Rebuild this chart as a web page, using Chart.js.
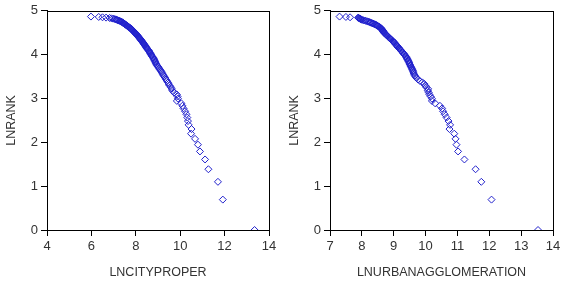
<!DOCTYPE html>
<html>
<head>
<meta charset="UTF-8" />
<script src="https://cdn.jsdelivr.net/npm/chart.js"></script>
<style>
  body { margin: 0; background: #fff; }
  .panel { position: absolute; top: 0; }
</style>
</head>
<body>
<div class="panel" style="left:0"><canvas id="cityChart" width="283" height="284"></canvas></div>
<div class="panel" style="left:283px"><canvas id="urbanChart" width="284" height="284"></canvas></div>

<script>
// LNRANK, rank 1..130
const lnRank = [
  0.000, 0.693, 1.099, 1.386, 1.609, 1.792, 1.946, 2.079, 2.197, 2.303,
  2.398, 2.485, 2.565, 2.639, 2.708, 2.773, 2.833, 2.890, 2.944, 2.996,
  3.045, 3.091, 3.135, 3.178, 3.219, 3.258, 3.296, 3.332, 3.367, 3.401,
  3.434, 3.466, 3.497, 3.526, 3.555, 3.584, 3.611, 3.638, 3.664, 3.689,
  3.714, 3.738, 3.761, 3.784, 3.807, 3.829, 3.850, 3.871, 3.892, 3.912,
  3.932, 3.951, 3.970, 3.989, 4.007, 4.025, 4.043, 4.060, 4.078, 4.094,
  4.111, 4.127, 4.143, 4.159, 4.174, 4.190, 4.205, 4.220, 4.234, 4.248,
  4.263, 4.277, 4.290, 4.304, 4.317, 4.331, 4.344, 4.357, 4.369, 4.382,
  4.394, 4.407, 4.419, 4.431, 4.443, 4.454, 4.466, 4.477, 4.489, 4.500,
  4.511, 4.522, 4.533, 4.543, 4.554, 4.564, 4.575, 4.585, 4.595, 4.605,
  4.615, 4.625, 4.635, 4.644, 4.654, 4.663, 4.673, 4.682, 4.691, 4.700,
  4.710, 4.718, 4.727, 4.736, 4.745, 4.754, 4.762, 4.771, 4.779, 4.787,
  4.796, 4.804, 4.812, 4.820, 4.828, 4.836, 4.844, 4.852, 4.860, 4.868
];

const lnCityProper = [
  13.35, 11.92, 11.70, 11.27, 11.12, 10.89, 10.80, 10.67, 10.49, 10.51,
  10.38, 10.35, 10.32, 10.28, 10.22, 10.15, 10.10, 10.05, 9.85, 9.90,
  9.88, 9.85, 9.72, 9.65, 9.62, 9.58, 9.52, 9.48, 9.45, 9.40,
  9.36, 9.33, 9.28, 9.25, 9.22, 9.18, 9.15, 9.12, 9.08, 9.05,
  9.02, 8.98, 8.95, 8.92, 8.90, 8.88, 8.86, 8.84, 8.82, 8.80,
  8.78, 8.75, 8.72, 8.70, 8.68, 8.66, 8.64, 8.62, 8.60, 8.58,
  8.55, 8.52, 8.50, 8.48, 8.46, 8.44, 8.42, 8.40, 8.38, 8.36,
  8.34, 8.32, 8.30, 8.28, 8.26, 8.24, 8.22, 8.20, 8.18, 8.16,
  8.14, 8.12, 8.10, 8.08, 8.06, 8.04, 8.02, 8.00, 7.98, 7.96,
  7.94, 7.92, 7.90, 7.88, 7.86, 7.84, 7.82, 7.80, 7.78, 7.75,
  7.72, 7.70, 7.67, 7.64, 7.62, 7.60, 7.57, 7.54, 7.52, 7.50,
  7.47, 7.44, 7.42, 7.40, 7.37, 7.34, 7.30, 7.26, 7.22, 7.18,
  7.14, 7.10, 7.05, 6.98, 6.90, 6.82, 6.66, 6.50, 6.33, 5.98
];

const lnUrbanAgglomeration = [
  13.53, 12.07, 11.75, 11.57, 11.22, 11.02, 10.97, 10.94, 10.90, 10.75,
  10.77, 10.72, 10.66, 10.60, 10.55, 10.52, 10.45, 10.30, 10.20, 10.20,
  10.16, 10.12, 10.10, 10.07, 10.08, 10.02, 9.99, 9.96, 9.90, 9.82,
  9.76, 9.72, 9.68, 9.66, 9.64, 9.62, 9.61, 9.60, 9.58, 9.57,
  9.55, 9.53, 9.52, 9.50, 9.49, 9.48, 9.46, 9.45, 9.43, 9.42,
  9.40, 9.39, 9.37, 9.35, 9.33, 9.31, 9.29, 9.27, 9.25, 9.23,
  9.21, 9.19, 9.17, 9.15, 9.13, 9.12, 9.10, 9.08, 9.06, 9.05,
  9.03, 9.02, 9.00, 8.98, 8.96, 8.94, 8.92, 8.90, 8.88, 8.87,
  8.85, 8.83, 8.81, 8.80, 8.78, 8.76, 8.75, 8.73, 8.71, 8.70,
  8.69, 8.68, 8.67, 8.66, 8.65, 8.64, 8.63, 8.62, 8.61, 8.60,
  8.58, 8.56, 8.54, 8.52, 8.50, 8.48, 8.46, 8.44, 8.41, 8.38,
  8.35, 8.32, 8.29, 8.26, 8.23, 8.20, 8.16, 8.12, 8.08, 8.04,
  8.00, 7.98, 7.96, 7.94, 7.92, 7.90, 7.88, 7.63, 7.50, 7.30
];

const yTitle = 'LNRANK';
const cityTitle = 'LNCITYPROPER';
const urbanTitle = 'LNURBANAGGLOMERATION';

Chart.defaults.font.family = 'Arial, "Liberation Sans", sans-serif';
Chart.defaults.font.size = 12;
Chart.defaults.color = '#333';

// draws the box round the plot area
const frame = {
  id: 'frame',
  afterDraw(chart) {
    const a = chart.chartArea, c = chart.ctx;
    c.save();
    c.strokeStyle = '#000';
    c.lineWidth = 1;
    c.strokeRect(Math.round(a.left) + 0.5, Math.round(a.top) + 0.5,
      Math.round(a.right - a.left), Math.round(a.bottom - a.top));
    c.restore();
  }
};

function makeChart(id, xs, xmin, xmax, step, xTitle) {
  const pts = xs.map((x, i) => ({ x: x, y: lnRank[i] }));
  return new Chart(document.getElementById(id), {
    type: 'scatter',
    data: {
      datasets: [{
        data: pts,
        pointStyle: 'rectRot',
        pointRadius: 3.5,
        pointBorderWidth: 1,
        borderColor: '#2020cc',
        backgroundColor: 'rgba(255,255,255,0)'
      }]
    },
    options: {
      responsive: false,
      animation: false,
      devicePixelRatio: 1,
      layout: { padding: { top: 10, right: 14, left: 0, bottom: 0 } },
      plugins: { legend: { display: false }, tooltip: { enabled: false } },
      scales: {
        x: {
          type: 'linear', min: xmin, max: xmax,
          ticks: { stepSize: step, padding: 3, color: '#333', font: { size: 13 } },
          grid: { drawOnChartArea: false, tickLength: 6, color: '#000' },
          border: { color: '#000' },
          title: { display: true, text: xTitle, color: '#333', font: { size: 12.5 }, padding: { top: 4, bottom: 4 } },
          afterFit: s => { s.height = 54; }
        },
        y: {
          type: 'linear', min: 0, max: 5,
          ticks: { stepSize: 1, padding: 3, color: '#333', font: { size: 13 } },
          grid: { drawOnChartArea: false, tickLength: 6, color: '#000' },
          border: { color: '#000' },
          title: { display: true, text: yTitle, color: '#333', font: { size: 12.5 }, padding: { top: 4, bottom: 4 } },
          afterFit: s => { s.width = 47; }
        }
      }
    },
    plugins: [frame]
  });
}

makeChart('cityChart', lnCityProper, 4, 14, 2, cityTitle);
makeChart('urbanChart', lnUrbanAgglomeration, 7, 14, 1, urbanTitle);
</script>
</body>
</html>
